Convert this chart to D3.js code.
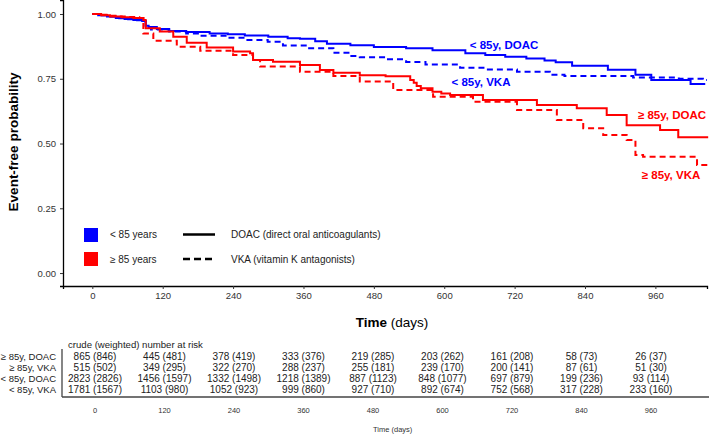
<!DOCTYPE html>
<html><head><meta charset="utf-8">
<script src="https://cdn.jsdelivr.net/npm/d3@7"></script>
<style>
body{margin:0;background:#fff;}
svg{display:block;font-family:"Liberation Sans",Arial,Helvetica,sans-serif;}
</style></head>
<body><svg id="c" width="709" height="441"></svg>
<script>
// ---- data ----
const youngDoac = [[0,1],[10,.995],[25,.990],[40,.985],[55,.981],[70,.977],[85,.973],[91,.955],[96,.950],[110,.942],[131,.934],[160,.930],[200,.925],[231,.922],[260,.917],[300,.912],[333,.906],[354,.904],[380,.895],[400,.885],[440,.879],[480,.873],[535,.868],[580,.860],[636,.848],[670,.842],[704,.835],[740,.828],[771,.820],[790,.814],[818,.800],[879,.785],[926,.765],[953,.745],[1020,.730],[1045,.730]];
const youngVka = [[0,1],[12,.995],[27,.990],[42,.984],[57,.980],[72,.976],[86,.972],[91,.950],[100,.940],[131,.932],[160,.925],[184,.916],[231,.908],[260,.900],[299,.893],[325,.878],[366,.868],[411,.850],[439,.838],[456,.833],[500,.825],[535,.815],[568,.805],[627,.792],[670,.786],[724,.777],[780,.765],[805,.761],[922,.755],[1000,.750],[1041,.745],[1048,.745]];
const oldDoac = [[0,1],[15,.995],[30,.990],[50,.987],[70,.985],[87,.977],[91,.945],[115,.932],[138,.912],[161,.889],[195,.871],[240,.855],[269,.848],[274,.822],[308,.816],[354,.803],[388,.784],[411,.773],[456,.764],[500,.760],[542,.745],[548,.735],[553,.722],[560,.713],[580,.700],[595,.693],[610,.687],[666,.668],[758,.649],[826,.636],[877,.610],[911,.571],[968,.552],[999,.524],[1050,.524]];
const oldVka = [[0,1],[10,.997],[30,.993],[45,.990],[60,.988],[80,.985],[87,.925],[104,.897],[144,.874],[184,.858],[240,.842],[274,.822],[286,.797],[354,.777],[411,.761],[456,.739],[513,.707],[581,.681],[649,.661],[724,.629],[792,.591],[837,.559],[871,.533],[911,.514],[926,.456],[939,.449],[1031,.417],[1050,.417]];

const xTicks = [0,120,240,360,480,600,720,840,960];
const yTicks = [0,0.25,0.5,0.75,1];
const riskRows = ["≥ 85y, DOAC","≥ 85y, VKA","< 85y, DOAC","< 85y, VKA"];
const riskOldDoacCrude = [865,445,378,333,219,203,161,58,26];
const riskOldDoacWeighted = [846,481,419,376,285,262,208,73,37];
const riskOldVkaCrude = [515,349,322,288,255,239,200,87,51];
const riskOldVkaWeighted = [502,295,270,237,181,170,141,61,30];
const riskYoungDoacCrude = [2823,1456,1332,1218,887,848,697,199,93];
const riskYoungDoacWeighted = [2826,1597,1498,1389,1123,1077,879,236,114];
const riskYoungVkaCrude = [1781,1103,1052,999,927,892,752,317,233];
const riskYoungVkaWeighted = [1567,980,923,860,710,674,568,228,160];

// ---- drawing ----
const svg = d3.select("#c");
const BLUE = "#0000ff", RED = "#ff0000";
const x = d3.scaleLinear().domain([-50,1048]).range([63,707]);
const y = d3.scaleLinear().domain([-0.05,1.054]).range([286,0]);

// axes
const xAxis = d3.axisBottom(x).tickValues(xTicks).tickSize(3).tickPadding(3).tickFormat(d3.format("d"));
const gx = svg.append("g").attr("transform","translate(0,286)").call(xAxis);
gx.select(".domain").attr("stroke","#000").attr("stroke-width",1.3);
gx.selectAll(".tick line").attr("stroke","#333");
gx.selectAll("text").attr("font-size",9.5).attr("fill","#333");

const yAxis = d3.axisLeft(y).tickValues(yTicks).tickSize(3).tickPadding(4).tickFormat(d3.format(".2f"));
const gy = svg.append("g").attr("transform","translate(63,0)").call(yAxis);
gy.select(".domain").attr("stroke","#000").attr("stroke-width",1.3);
gy.selectAll(".tick line").attr("stroke","#333");
gy.selectAll("text").attr("font-size",9.5).attr("fill","#333");

// titles
svg.append("text").attr("transform","translate(18,142) rotate(-90)").attr("text-anchor","middle")
  .attr("font-size",13.5).attr("font-weight","bold").attr("fill","#000").text("Event-free probability");
const tt = svg.append("text").attr("x",392).attr("y",327).attr("text-anchor","middle").attr("font-size",13.5).attr("fill","#000");
tt.append("tspan").attr("font-weight","bold").text("Time");
tt.append("tspan").text(" (days)");

// curves
const line = d3.line().x(d=>x(d[0])).y(d=>y(d[1])).curve(d3.curveStepAfter);
const series = [
  {data: youngVka, color: BLUE, dash: "6,4"},
  {data: youngDoac, color: BLUE, dash: null},
  {data: oldVka, color: RED, dash: "6,4"},
  {data: oldDoac, color: RED, dash: null}
];
series.forEach(s=>{
  svg.append("path").attr("d",line(s.data)).attr("fill","none").attr("stroke",s.color)
    .attr("stroke-width",2).attr("stroke-dasharray",s.dash);
});

// curve labels
const lab = [
  {t:"< 85y, DOAC", x:504, y:49, c:BLUE},
  {t:"< 85y, VKA", x:481, y:86, c:BLUE},
  {t:"≥ 85y, DOAC", x:672, y:119, c:RED},
  {t:"≥ 85y, VKA", x:671, y:179, c:RED}
];
lab.forEach(l=>svg.append("text").attr("x",l.x).attr("y",l.y).attr("text-anchor","middle")
  .attr("font-size",11.5).attr("font-weight","bold").attr("fill",l.c).text(l.t));

// legend
const leg = svg.append("g");
leg.append("rect").attr("x",84).attr("y",228).attr("width",14).attr("height",14).attr("fill",BLUE);
leg.append("rect").attr("x",84).attr("y",252).attr("width",14).attr("height",14).attr("fill",RED);
leg.append("text").attr("x",110).attr("y",238).attr("font-size",10).attr("fill","#222").text("< 85 years");
leg.append("text").attr("x",110).attr("y",262.5).attr("font-size",10).attr("fill","#222").text("≥ 85 years");
leg.append("line").attr("x1",183).attr("x2",215).attr("y1",234.5).attr("y2",234.5).attr("stroke","#000").attr("stroke-width",2.5);
leg.append("line").attr("x1",183).attr("x2",215).attr("y1",259).attr("y2",259).attr("stroke","#000").attr("stroke-width",2.5).attr("stroke-dasharray","7,4");
leg.append("text").attr("x",231).attr("y",238).attr("font-size",10).attr("fill","#222").text("DOAC (direct oral anticoagulants)");
leg.append("text").attr("x",231).attr("y",262.5).attr("font-size",10).attr("fill","#222").text("VKA (vitamin K antagonists)");

// risk table
const tx = d3.scaleLinear().domain([0,960]).range([95,651]);
svg.append("text").attr("x",68).attr("y",347.5).attr("font-size",9.6).attr("fill","#222").text("crude (weighted) number at risk");
const crude = [riskOldDoacCrude, riskOldVkaCrude, riskYoungDoacCrude, riskYoungVkaCrude];
const weighted = [riskOldDoacWeighted, riskOldVkaWeighted, riskYoungDoacWeighted, riskYoungVkaWeighted];
const rowY = d3.scalePoint().domain(riskRows).range([356,389]);
riskRows.forEach((r,i)=>{
  svg.append("text").attr("x",56).attr("y",rowY(r)+3.6).attr("text-anchor","end").attr("font-size",9.5).attr("fill","#222").text(r);
  xTicks.forEach((t,j)=>{
    svg.append("text").attr("x",tx(t)).attr("y",rowY(r)+3.6).attr("text-anchor","middle").attr("font-size",10).attr("fill","#222")
      .text(crude[i][j] + " (" + weighted[i][j] + ")");
  });
});
svg.append("line").attr("x1",62).attr("x2",62).attr("y1",349).attr("y2",397).attr("stroke","#444").attr("stroke-width",1.3);
svg.append("line").attr("x1",62).attr("x2",709).attr("y1",397).attr("y2",397).attr("stroke","#444").attr("stroke-width",1.3);
xTicks.forEach(t=>svg.append("text").attr("x",tx(t)).attr("y",413).attr("text-anchor","middle").attr("font-size",7.5).attr("fill","#333").text(t));
svg.append("text").attr("x",373).attr("y",432).attr("font-size",7.5).attr("fill","#333").text("Time (days)");
</script></body></html>
